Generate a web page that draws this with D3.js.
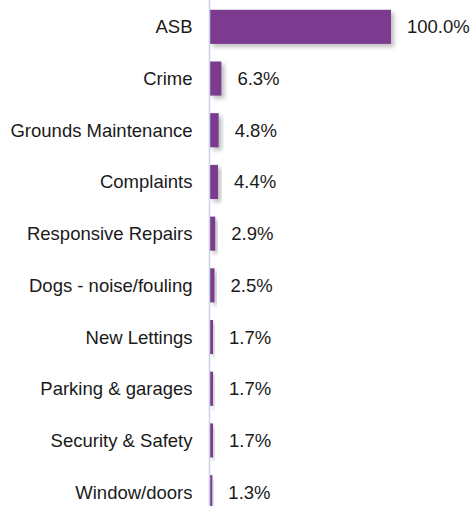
<!DOCTYPE html>
<html>
<head>
<meta charset="utf-8">
<script src="https://cdn.jsdelivr.net/npm/d3@7/dist/d3.min.js"></script>
<style>
  html, body { margin: 0; padding: 0; background: #fff; }
  svg { display: block; font-family: "Liberation Sans", Arial, sans-serif; }
</style>
</head>
<body>
<svg id="chart" width="472" height="506"></svg>
<script>
// Share of enquiries by category (percent of the largest category)
const categories = [
  "ASB", "Crime", "Grounds Maintenance", "Complaints", "Responsive Repairs",
  "Dogs - noise/fouling", "New Lettings", "Parking & garages",
  "Security & Safety", "Window/doors"
];
const values = [100.0, 6.3, 4.8, 4.4, 2.9, 2.5, 1.7, 1.7, 1.7, 1.3];

const svg = d3.select("#chart");
const axisX = 210;
const fontSize = 18.5;

const x = d3.scaleLinear().domain([0, 100]).range([axisX, axisX + 181]);
const y = d3.scaleBand()
  .domain(categories)
  .range([1, 518])
  .paddingInner(0.34)
  .paddingOuter(0.17);

// soft drop shadow under each bar
const defs = svg.append("defs");
const f = defs.append("filter").attr("id", "shadow")
  .attr("x", "-50%").attr("y", "-50%").attr("width", "200%").attr("height", "200%");
f.append("feDropShadow")
  .attr("dx", 3).attr("dy", 3).attr("stdDeviation", 2)
  .attr("flood-color", "#888").attr("flood-opacity", 0.55);

const rows = categories.map((c, i) => ({ c, v: values[i] }));

svg.append("g").selectAll("rect").data(rows).join("rect")
  .attr("x", x(0))
  .attr("y", d => y(d.c))
  .attr("width", d => x(d.v) - x(0))
  .attr("height", y.bandwidth())
  .attr("fill", "#7b3a8f")
  .attr("filter", "url(#shadow)");

// vertical baseline
svg.append("line")
  .attr("x1", axisX - 0.5).attr("x2", axisX - 0.5)
  .attr("y1", 0).attr("y2", 506)
  .attr("stroke", "#c6d3e4").attr("stroke-width", 1.5);

// category labels
svg.append("g").selectAll("text").data(rows).join("text")
  .attr("x", 192.5)
  .attr("y", d => y(d.c) + y.bandwidth() / 2)
  .attr("dy", "0.35em")
  .attr("text-anchor", "end")
  .attr("font-size", fontSize)
  .attr("fill", "#1a1a1a")
  .text(d => d.c);

// value labels
svg.append("g").selectAll("text").data(rows).join("text")
  .attr("x", d => x(d.v) + 16)
  .attr("y", d => y(d.c) + y.bandwidth() / 2)
  .attr("dy", "0.35em")
  .attr("font-size", fontSize)
  .attr("fill", "#1a1a1a")
  .text(d => d.v.toFixed(1) + "%");
</script>
</body>
</html>
